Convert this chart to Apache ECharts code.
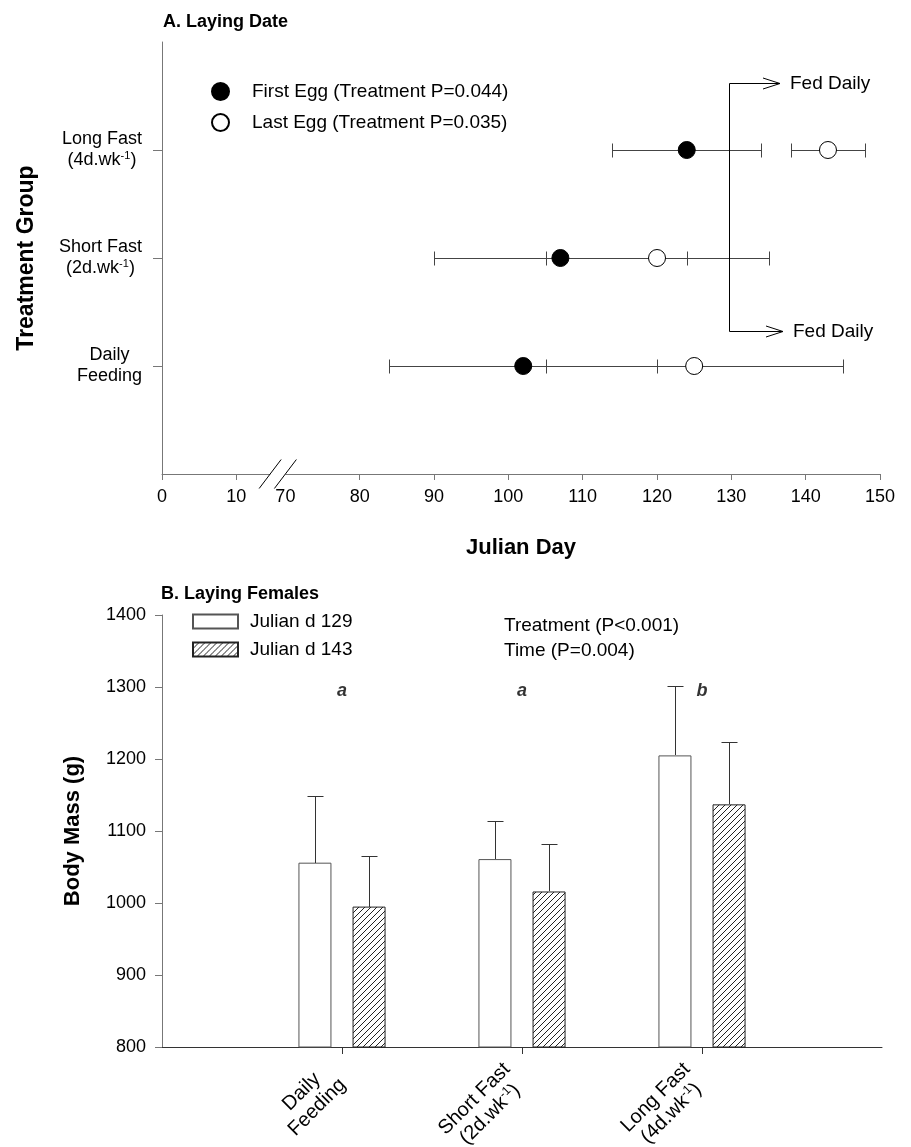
<!DOCTYPE html>
<html>
<head>
<meta charset="utf-8">
<script src="https://cdn.jsdelivr.net/npm/echarts@6/dist/echarts.min.js"></script>
<style>
html, body { margin: 0; padding: 0; background: #fff; }
#chart { width: 911px; height: 1147px; }
</style>
</head>
<body>
<div id="chart"></div>
<script>
var FONT = '"Liberation Sans", Arial, Helvetica, sans-serif';

// ---- Panel A: laying date (groups from bottom to top) ----
var groupPos = [1, 2, 3];
var groupLabels = [
    '{a|Daily}\n{a|Feeding}',
    '{a|Short Fast}\n{a|(2d.wk}{s|-1}{a|)}',
    '{a|Long Fast}\n{a|(4d.wk}{s|-1}{a|)}'
];
var firstEgg = [102, 107, 124];
var firstEggSE = [18, 17, 10];
var lastEgg = [125, 120, 143];
var lastEggSE = [20, 15, 5];
var dayTicks = [0, 10, 70, 80, 90, 100, 110, 120, 130, 140, 150];

// "Fed Daily" switch-over marker
var fedDailyDay = 129.7;
var fedArrowY = [3.625, 1.323];
var fedArrowEnd = [136.5, 136.9];
var fedLabel = ['Fed Daily', 'Fed Daily'];

// ---- Panel B: body mass of laying females ----
var massGroups = ['', 'Daily Feeding', 'Short Fast', 'Long Fast', ''];
var massLabels = [
    '',
    '{b|Daily}\n{b|Feeding}',
    '{b|Short Fast}\n{b|(2d.wk}{t|-1}{b|)}',
    '{b|Long Fast}\n{b|(4d.wk}{t|-1}{b|)}',
    ''
];
var mass129 = ['-', 1056, 1061, 1205, '-'];
var se129 = [0, 93, 53, 97, 0];
var mass143 = ['-', 995, 1016, 1137, '-'];
var se143 = [0, 70, 66, 87, 0];
var sigLetters = ['', 'a', 'a', 'b', ''];
var sigLevel = 1294;

// broken x axis: 10 .. 70 squeezed into a small gap
var BREAK_FROM = 10, BREAK_TO = 70, BREAK_GAP = 6.6;
function toAxis(d) {
    return d <= BREAK_FROM ? d : d - (BREAK_TO - BREAK_FROM) + BREAK_GAP;
}
function fromAxis(t) {
    return t <= BREAK_FROM + 0.01 ? Math.round(t) : Math.round(t + (BREAK_TO - BREAK_FROM) - BREAK_GAP);
}

var BAR_W = 33, BAR_GAP = 0.64;
var BAR_OFFSET = (BAR_W + BAR_W * BAR_GAP) / 2;

function hatch() {
    var c = document.createElement('canvas');
    c.width = 6; c.height = 6;
    var g = c.getContext('2d');
    g.fillStyle = '#fff';
    g.fillRect(0, 0, 6, 6);
    g.strokeStyle = '#222';
    g.lineWidth = 1;
    g.beginPath();
    g.moveTo(0, 6); g.lineTo(6, 0);
    g.moveTo(-1, 1); g.lineTo(1, -1);
    g.moveTo(5, 7); g.lineTo(7, 5);
    g.stroke();
    return c;
}

var richLabel = {
    a: { fontFamily: FONT, fontSize: 18, color: '#000', align: 'center', lineHeight: 21 },
    s: { fontFamily: FONT, fontSize: 11, color: '#000', align: 'center', verticalAlign: 'top', lineHeight: 12 },
    b: { fontFamily: FONT, fontSize: 20, color: '#000', align: 'center', lineHeight: 22 },
    t: { fontFamily: FONT, fontSize: 12, color: '#000', align: 'center', verticalAlign: 'top', lineHeight: 13 }
};

function px(v) { return Math.round(v) + 0.5; }

var errA = [];
for (var i = 0; i < groupPos.length; i++) {
    errA.push([toAxis(firstEgg[i] - firstEggSE[i]), toAxis(firstEgg[i] + firstEggSE[i]), groupPos[i]]);
    errA.push([toAxis(lastEgg[i] - lastEggSE[i]), toAxis(lastEgg[i] + lastEggSE[i]), groupPos[i]]);
}

var errB = [];
for (var j = 0; j < massGroups.length; j++) {
    if (mass129[j] !== '-') errB.push([j, mass129[j], se129[j], -1]);
    if (mass143[j] !== '-') errB.push([j, mass143[j], se143[j], 1]);
}

function renderHErr(params, api) {
    var y = api.value(2);
    var lo = api.coord([api.value(0), y]);
    var hi = api.coord([api.value(1), y]);
    var st = { stroke: '#444', lineWidth: 1 };
    var yy = px(lo[1]);
    return {
        type: 'group',
        children: [
            { type: 'line', shape: { x1: px(lo[0]), y1: yy, x2: px(hi[0]), y2: yy }, style: st },
            { type: 'line', shape: { x1: px(lo[0]), y1: yy - 7, x2: px(lo[0]), y2: yy + 7 }, style: st },
            { type: 'line', shape: { x1: px(hi[0]), y1: yy - 7, x2: px(hi[0]), y2: yy + 7 }, style: st }
        ]
    };
}

function renderFed(params, api) {
    var i = params.dataIndex;
    var s = api.coord([api.value(0), api.value(1)]);
    var e = api.coord([api.value(2), api.value(1)]);
    var st = { stroke: '#000', lineWidth: 1, fill: null };
    var x0 = px(s[0]), y0 = px(s[1]), x1 = Math.round(e[0]);
    var kids = [
        { type: 'line', shape: { x1: x0, y1: y0, x2: x1, y2: y0 }, style: st },
        { type: 'polyline', shape: { points: [[x1 - 17, y0 - 5.5], [x1, y0], [x1 - 17, y0 + 5.5]] }, style: st },
        { type: 'text', style: { text: fedLabel[i], x: x1 + 10, y: y0, verticalAlign: 'middle', font: '19px ' + FONT, fill: '#000' } }
    ];
    if (i === 0) {
        var b = api.coord([fedDailyDay, fedArrowY[1]]);
        kids.push({ type: 'line', shape: { x1: x0, y1: y0, x2: x0, y2: px(b[1]) }, style: st });
    }
    return { type: 'group', children: kids };
}

function renderVErr(params, api) {
    var base = api.coord([api.value(0), api.value(1)]);
    var top = api.coord([api.value(0), api.value(1) + api.value(2)]);
    var x = px(base[0] + api.value(3) * BAR_OFFSET);
    var st = { stroke: '#333', lineWidth: 1 };
    return {
        type: 'group',
        children: [
            { type: 'line', shape: { x1: x, y1: Math.round(base[1]), x2: x, y2: px(top[1]) }, style: st },
            { type: 'line', shape: { x1: x - 8, y1: px(top[1]), x2: x + 8, y2: px(top[1]) }, style: st }
        ]
    };
}

var dom = document.getElementById('chart');
var myChart = echarts.init(dom, null, { renderer: 'canvas' });

var dayAxisValues = dayTicks.map(toAxis);
var dayTickValues = dayTicks.filter(function (d) { return d !== BREAK_TO; }).map(toAxis);

var option = {
    backgroundColor: '#fff',
    animation: false,
    textStyle: { fontFamily: FONT },
    title: [
        { text: 'A. Laying Date', left: 158, top: 8, textStyle: { fontFamily: FONT, fontSize: 18, fontWeight: 'bold', color: '#000' } },
        { text: 'B. Laying Females', left: 156, top: 580, textStyle: { fontFamily: FONT, fontSize: 18, fontWeight: 'bold', color: '#000' } },
        { text: 'Treatment (P<0.001)\nTime (P=0.004)', left: 499, top: 608, textStyle: { fontFamily: FONT, fontSize: 19, fontWeight: 'normal', color: '#000', lineHeight: 25 } }
    ],
    legend: [
        {
            data: ['First Egg (Treatment P=0.044)', 'Last Egg (Treatment P=0.035)'],
            orient: 'vertical', left: 206, top: 77, itemWidth: 17, itemHeight: 17, itemGap: 12,
            selectedMode: false,
            textStyle: { fontFamily: FONT, fontSize: 19, color: '#000', padding: [0, 0, 0, 18], lineHeight: 19 }
        },
        {
            data: [{ name: 'Julian d 129', icon: 'rect' }, { name: 'Julian d 143', icon: 'rect' }],
            orient: 'vertical', left: 187, top: 607, itemWidth: 45, itemHeight: 14, itemGap: 9,
            selectedMode: false,
            textStyle: { fontFamily: FONT, fontSize: 19, color: '#000', padding: [0, 0, 0, 7], lineHeight: 18 }
        }
    ],
    grid: [
        { left: 162, top: 42, width: 718, height: 432, outerBoundsMode: 'none' },
        { left: 162, top: 615, width: 720, height: 432, outerBoundsMode: 'none' }
    ],
    xAxis: [
        {
            gridIndex: 0, type: 'value', min: 0, max: toAxis(150),
            name: 'Julian Day', nameLocation: 'middle', nameGap: 63,
            nameTextStyle: { fontFamily: FONT, fontSize: 22, fontWeight: 'bold', color: '#000' },
            axisLine: { lineStyle: { color: '#777', width: 1 } },
            axisTick: { customValues: dayTickValues, length: 6, lineStyle: { color: '#777' } },
            axisLabel: {
                customValues: dayAxisValues, margin: 14, fontSize: 18, color: '#000', fontFamily: FONT,
                formatter: function (v) { return String(fromAxis(v)); }
            },
            splitLine: { show: false }
        },
        {
            gridIndex: 1, type: 'category', boundaryGap: false, data: massGroups,
            axisLine: { lineStyle: { color: '#333', width: 1 } },
            axisTick: { length: 7, interval: function (i) { return i >= 1 && i <= 3; }, lineStyle: { color: '#333' } },
            axisLabel: {
                interval: function (i) { return i >= 1 && i <= 3; },
                rotate: 45, margin: 20, padding: [0, 10, 0, 0], rich: richLabel,
                formatter: function (v, i) { return massLabels[i]; }
            },
            splitLine: { show: false }
        }
    ],
    yAxis: [
        {
            gridIndex: 0, type: 'value', min: 0, max: 4,
            name: 'Treatment Group', nameLocation: 'middle', nameRotate: 90, nameGap: 124,
            nameTextStyle: { fontFamily: FONT, fontSize: 23, fontWeight: 'bold', color: '#000' },
            axisLine: { show: true, lineStyle: { color: '#777', width: 1 } },
            axisTick: { show: true, customValues: groupPos, length: 9, lineStyle: { color: '#777' } },
            axisLabel: {
                customValues: groupPos, margin: 20, rich: richLabel,
                formatter: function (v) { return groupLabels[Math.round(v) - 1]; }
            },
            splitLine: { show: false }
        },
        {
            gridIndex: 1, type: 'value', min: 800, max: 1400, interval: 100,
            name: 'Body Mass (g)', nameLocation: 'middle', nameRotate: 90, nameGap: 78,
            nameTextStyle: { fontFamily: FONT, fontSize: 22, fontWeight: 'bold', color: '#000' },
            axisLine: { show: true, lineStyle: { color: '#777', width: 1 } },
            axisTick: { show: true, length: 7, lineStyle: { color: '#777' } },
            axisLabel: {
                margin: 16, fontSize: 18, color: '#000', fontFamily: FONT,
                formatter: function (v) { return String(v); }
            },
            splitLine: { show: false }
        }
    ],
    series: [
        {
            type: 'custom', name: 'errA', xAxisIndex: 0, yAxisIndex: 0,
            renderItem: renderHErr, data: errA, encode: { x: [0, 1], y: 2 }, silent: true, z: 1
        },
        {
            type: 'scatter', name: 'First Egg (Treatment P=0.044)', xAxisIndex: 0, yAxisIndex: 0,
            symbol: 'circle', symbolSize: 17,
            itemStyle: { color: '#000', borderColor: '#000', borderWidth: 1, opacity: 1 },
            data: firstEgg.map(function (d, i) { return [toAxis(d), groupPos[i]]; }), z: 3
        },
        {
            type: 'scatter', name: 'Last Egg (Treatment P=0.035)', xAxisIndex: 0, yAxisIndex: 0,
            symbol: 'circle', symbolSize: 17,
            itemStyle: { color: '#fff', borderColor: '#000', borderWidth: 1, opacity: 1 },
            data: lastEgg.map(function (d, i) { return [toAxis(d), groupPos[i]]; }), z: 3
        },
        {
            type: 'custom', name: 'fed', xAxisIndex: 0, yAxisIndex: 0, silent: true, z: 2,
            renderItem: renderFed,
            data: fedArrowY.map(function (y, i) { return [toAxis(fedDailyDay), y, toAxis(fedArrowEnd[i])]; }),
            encode: { x: [0, 2], y: 1 }
        },
        {
            type: 'bar', name: 'Julian d 129', xAxisIndex: 1, yAxisIndex: 1,
            barWidth: BAR_W, barGap: (BAR_GAP * 100) + '%',
            itemStyle: { color: '#fff', borderColor: '#555', borderWidth: 1 },
            data: mass129
        },
        {
            type: 'bar', name: 'Julian d 143', xAxisIndex: 1, yAxisIndex: 1,
            barWidth: BAR_W, barGap: (BAR_GAP * 100) + '%',
            itemStyle: { color: { image: hatch(), repeat: 'repeat' }, borderColor: '#222', borderWidth: 1 },
            data: mass143
        },
        {
            type: 'custom', name: 'errB', xAxisIndex: 1, yAxisIndex: 1, silent: true, z: 3,
            renderItem: renderVErr, data: errB, encode: { x: 0, y: 1 }
        },
        {
            type: 'scatter', name: 'sig', xAxisIndex: 1, yAxisIndex: 1, symbolSize: 1, silent: true,
            itemStyle: { color: 'rgba(0,0,0,0)' },
            data: [1, 2, 3].map(function (i) { return [i, sigLevel]; }),
            label: {
                show: true, position: 'inside', fontFamily: FONT, fontSize: 18, fontWeight: 'bold', fontStyle: 'italic', color: '#000',
                formatter: function (p) { return sigLetters[p.value[0]]; }
            }
        }
    ]
};

myChart.setOption(option);

// axis-break slashes on the Julian Day axis
var p1 = myChart.convertToPixel({ xAxisIndex: 0, yAxisIndex: 0 }, [toAxis(BREAK_TO) - 2.05, 0]);
var p2 = myChart.convertToPixel({ xAxisIndex: 0, yAxisIndex: 0 }, [toAxis(BREAK_TO), 0]);
var slash = { stroke: '#000', lineWidth: 1 };
myChart.setOption({
    graphic: [
        { type: 'rect', shape: { x: p1[0], y: p1[1] - 3, width: p2[0] - p1[0], height: 6 }, style: { fill: '#fff' }, z: 50 },
        { type: 'line', shape: { x1: p1[0] - 11, y1: p1[1] + 14.5, x2: p1[0] + 11, y2: p1[1] - 14.5 }, style: slash, z: 51 },
        { type: 'line', shape: { x1: p2[0] - 11, y1: p2[1] + 14.5, x2: p2[0] + 11, y2: p2[1] - 14.5 }, style: slash, z: 51 }
    ]
});
</script>
</body>
</html>
